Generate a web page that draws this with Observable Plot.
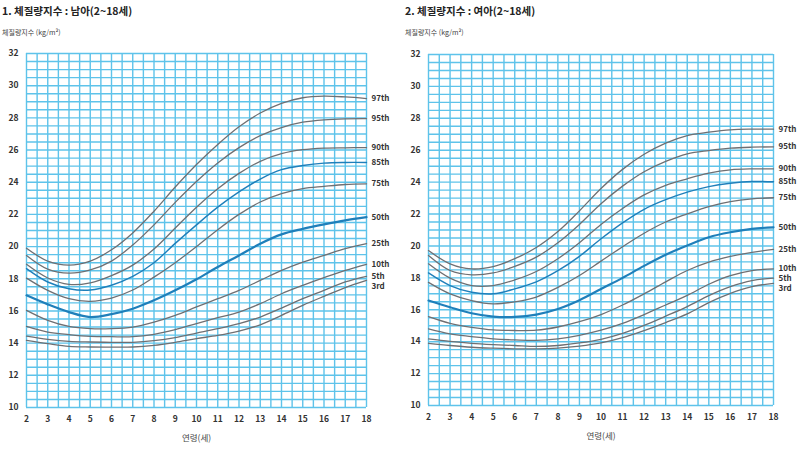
<!DOCTYPE html>
<html><head><meta charset="utf-8">
<script src="https://cdn.jsdelivr.net/npm/d3@7"></script>
<script src="https://cdn.jsdelivr.net/npm/@observablehq/plot@0.6"></script>
<style>
body{margin:0;background:#fff;font-family:"Noto Sans CJK KR","Noto Sans",sans-serif;}
#wrap{position:relative;width:798px;height:450px;overflow:hidden;background:#fff}
.panel{position:absolute;top:0;width:399px;height:450px}
.title{position:absolute;top:3px;font-size:10.5px;font-weight:bold;color:#222;white-space:nowrap}
.sub{position:absolute;top:27px;font-size:7px;color:#444;white-space:nowrap}
.panel svg{position:absolute;top:40px;left:0}
</style></head>
<body>
<div id="wrap">
  <div class="panel" id="boys" style="left:0">
    <div class="title" style="left:2px">1. 체질량지수 : 남아(2~18세)</div>
    <div class="sub" style="left:2px">체질량지수 (kg/m²)</div>
  </div>
  <div class="panel" id="girls" style="left:399px">
    <div class="title" style="left:6px">2. 체질량지수 : 여아(2~18세)</div>
    <div class="sub" style="left:6px">체질량지수 (kg/m²)</div>
  </div>
</div>
<script>
const ages = [2,3,4,5,6,7,8,9,10,11,12,13,14,15,16,17,18];
const percentiles = ["97th","95th","90th","85th","75th","50th","25th","10th","5th","3rd"];
const yTickValues = [10,12,14,16,18,20,22,24,26,28,30,32];

// Boys (남아) BMI percentiles by age 2..18
const boysP97 = [19.9,19.1,18.85,19.1,19.8,20.85,22.2,23.7,25.1,26.35,27.45,28.3,28.9,29.25,29.35,29.3,29.2];
const boysP95 = [19.45,18.6,18.35,18.55,19.1,20.1,21.35,22.75,24.05,25.2,26.15,26.9,27.4,27.73,27.88,27.94,27.95];
const boysP90 = [18.9,18.05,17.65,17.75,18.2,18.85,19.85,21.15,22.45,23.6,24.55,25.3,25.77,26.02,26.12,26.14,26.15];
const boysP85 = [18.63,17.8,17.38,17.3,17.6,18.15,19.0,20.2,21.35,22.45,23.4,24.2,24.78,25.04,25.19,25.23,25.23];
const boysP75 = [18.04,17.28,16.76,16.6,16.8,17.3,18.1,19.0,20.0,21.05,22.0,22.77,23.29,23.6,23.74,23.86,23.9];
const boysP50 = [16.97,16.41,15.93,15.62,15.8,16.14,16.66,17.28,17.97,18.73,19.45,20.18,20.76,21.1,21.38,21.63,21.83];
const boysP25 = [16.04,15.42,15.04,14.9,14.9,15.0,15.31,15.73,16.25,16.76,17.28,17.9,18.52,19.04,19.45,19.87,20.18];
const boysP10 = [15.04,14.69,14.53,14.42,14.4,14.4,14.55,14.84,15.22,15.58,15.93,16.45,17.07,17.59,18.07,18.52,18.9];
const boysP5  = [14.44,14.24,14.11,14.07,14.05,14.05,14.15,14.34,14.62,14.9,15.21,15.62,16.18,16.76,17.28,17.8,18.15];
const boysP3  = [14.17,13.97,13.8,13.76,13.75,13.76,13.86,14.05,14.28,14.48,14.75,15.14,15.73,16.35,16.91,17.45,17.9];

// Girls (여아) BMI percentiles by age 2..18
const girlsP97 = [19.71,18.88,18.56,18.71,19.2,19.9,20.9,22.2,23.6,24.8,25.75,26.45,26.92,27.13,27.28,27.32,27.32];
const girlsP95 = [19.4,18.46,18.19,18.31,18.72,19.3,20.2,21.35,22.65,23.75,24.65,25.3,25.77,25.98,26.13,26.19,26.21];
const girlsP90 = [18.88,17.98,17.52,17.52,17.87,18.4,19.2,20.2,21.35,22.35,23.2,23.8,24.21,24.56,24.77,24.83,24.83];
const girlsP85 = [18.31,17.52,17.1,17.0,17.31,17.75,18.45,19.35,20.45,21.45,22.3,22.9,23.37,23.72,23.93,24.04,24.02];
const girlsP75 = [17.72,17.0,16.58,16.37,16.5,16.8,17.4,18.15,19.05,19.95,20.8,21.5,22.01,22.47,22.78,22.95,23.02];
const girlsP50 = [16.58,16.16,15.78,15.57,15.55,15.7,16.05,16.6,17.3,18.0,18.75,19.45,20.03,20.55,20.86,21.07,21.17];
const girlsP25 = [15.57,15.15,14.9,14.74,14.7,14.72,14.92,15.25,15.7,16.3,17.0,17.75,18.46,18.98,19.34,19.6,19.79];
const girlsP10 = [14.8,14.49,14.32,14.17,14.11,14.08,14.18,14.4,14.72,15.15,15.7,16.3,16.9,17.6,18.14,18.46,18.56];
const girlsP5  = [14.17,14.02,13.9,13.82,13.76,13.7,13.76,13.92,14.15,14.52,15.02,15.6,16.2,16.89,17.45,17.83,17.98];
const girlsP3  = [13.9,13.76,13.65,13.59,13.55,13.55,13.6,13.72,13.92,14.25,14.7,15.2,15.74,16.45,17.03,17.45,17.66];

const boysSeries = [boysP97,boysP95,boysP90,boysP85,boysP75,boysP50,boysP25,boysP10,boysP5,boysP3];
const girlsSeries = [girlsP97,girlsP95,girlsP90,girlsP85,girlsP75,girlsP50,girlsP25,girlsP10,girlsP5,girlsP3];

const GRID = "#5ec3ea";
const GREY = "#6f6f72";
const BLUE = "#1f7fba";
const FONT = "'Noto Sans CJK KR','Noto Sans',sans-serif";
const halfSteps = (a, b) => d3.range(a * 2, b * 2 + 1).map(v => v / 2);

function build(series, m) {
  const rows = [];
  series.forEach((vals, i) => vals.forEach((v, j) => rows.push({pct: percentiles[i], age: ages[j], bmi: v})));
  // label positions: end values, pushed apart so they do not overlap
  const labels = [];
  let prev = Infinity;
  series.forEach((vals, i) => {
    const end = vals[vals.length - 1];
    const ly = Math.min(end, prev - 0.62);
    prev = ly;
    labels.push({pct: percentiles[i], ly});
  });
  const grey = rows.filter(d => d.pct !== "50th" && d.pct !== "85th");
  const p85 = rows.filter(d => d.pct === "85th");
  const p50 = rows.filter(d => d.pct === "50th");
  return Plot.plot({
    width: 399, height: 410,
    marginLeft: m.l, marginRight: m.r, marginTop: m.t, marginBottom: m.b,
    style: {fontFamily: FONT, fontSize: "9px", color: "#333", background: "transparent"},
    x: {domain: [2, 18]},
    y: {domain: [10, 32]},
    marks: [
      Plot.gridX(halfSteps(2, 18), {stroke: GRID, strokeOpacity: 1, strokeWidth: 1.4}),
      Plot.gridY(halfSteps(10, 32), {stroke: GRID, strokeOpacity: 1, strokeWidth: 1.4}),
      Plot.axisX(ages, {tickSize: 0, tickPadding: 8, fontWeight: "bold", fontSize: 8.5, fill: "#333", label: null}),
      Plot.axisY(yTickValues, {tickSize: 0, tickPadding: 8, fontWeight: "bold", fontSize: 8.5, fill: "#333", label: null}),
      Plot.text(["연령(세)"], {frameAnchor: "bottom", dy: 33, fontSize: 8.5, fill: "#444"}),
      Plot.line(grey, {x: "age", y: "bmi", z: "pct", stroke: GREY, strokeWidth: 1.3, curve: "catmull-rom"}),
      Plot.line(p85, {x: "age", y: "bmi", stroke: BLUE, strokeWidth: 1.4, curve: "catmull-rom"}),
      Plot.line(p50, {x: "age", y: "bmi", stroke: BLUE, strokeWidth: 2.2, curve: "catmull-rom"}),
      Plot.text(labels, {x: () => 18, y: "ly", text: "pct", dx: 5, textAnchor: "start", fontWeight: "bold", fontSize: 8, fill: "#333"})
    ]
  });
}

document.getElementById("boys").appendChild(build(boysSeries, {l: 26, r: 33, t: 13, b: 43}));
document.getElementById("girls").appendChild(build(girlsSeries, {l: 29, r: 25, t: 14, b: 45}));
</script>
</body></html>
